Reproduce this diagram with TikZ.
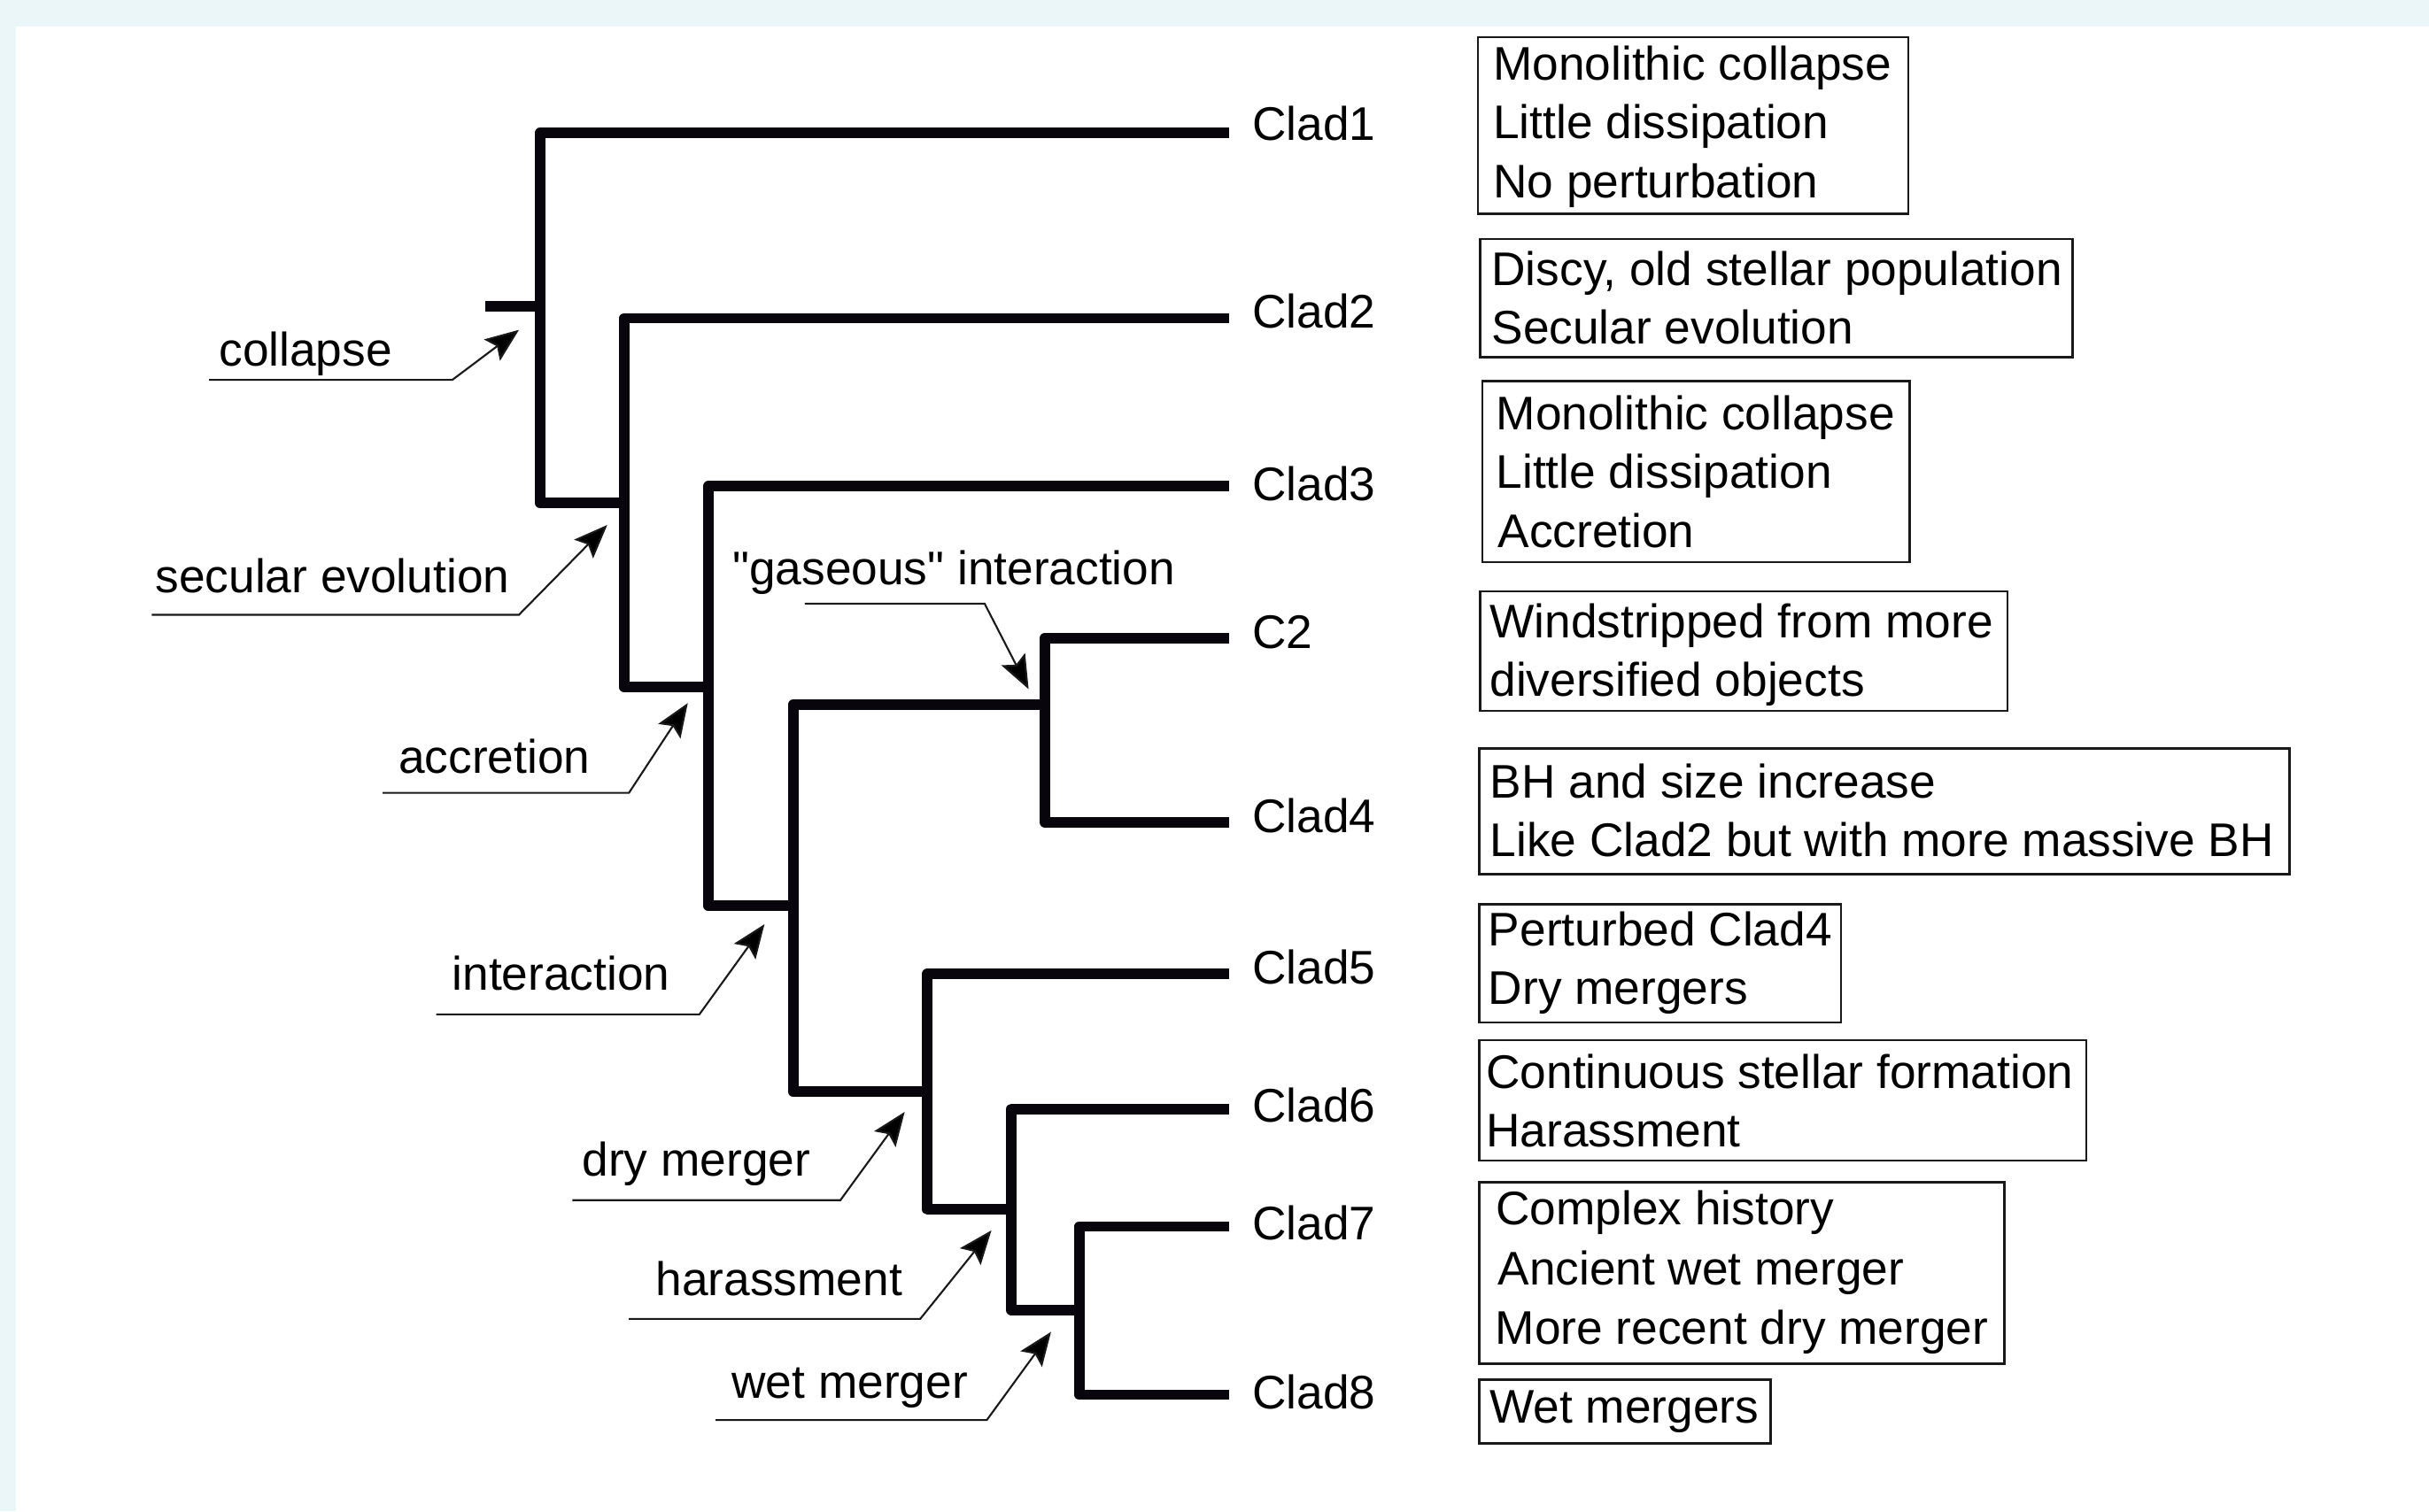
\documentclass[tikz,border=0pt]{standalone}
\usepackage{fontspec}
\newfontfamily\labfont{Liberation Sans}
\usetikzlibrary{arrows.meta,fit}
\definecolor{bgstrip}{RGB}{234,246,248}
\definecolor{inkline}{RGB}{8,6,12}
\begin{document}
\begin{tikzpicture}[x=0.017494cm,y=-0.017494cm,
  tree/.style={line width=3.4pt, line join=round, line cap=butt, draw=inkline},
  lead/.style={line width=0.6pt, draw=black!90, -{Stealth[length=0.38cm,width=0.3cm,inset=0.07cm,fill=black]}},
  boxst/.style={draw=black!90, line width=0.7pt, inner sep=0pt},
  txt/.style={inner sep=0pt, anchor=base west, font=\labfont\fontsize{15.15}{18}\selectfont}]
\useasboundingbox (0,0) rectangle (1568,976);
\fill[white] (0,0) rectangle (1568,976);
\fill[bgstrip] (0,0) rectangle (1568,17.1);
\fill[bgstrip] (0,0) rectangle (10.2,976);

% tree coordinates
\coordinate (stub) at (313,198);
\coordinate (root) at (348.5,198);
\coordinate (aBot) at (348.5,324.6);
\coordinate (bMid) at (403,324.6);
\coordinate (bBot) at (403,443.8);
\coordinate (cMid) at (457.3,443.8);
\coordinate (cBot) at (457.3,585);
\coordinate (dMid) at (512,585);
\coordinate (eMid) at (674.5,455);
\coordinate (eBot) at (674.5,531);
\coordinate (dBot) at (512,705);
\coordinate (fMid) at (598.6,705);
\coordinate (fBot) at (598.6,781);
\coordinate (gMid) at (653,781);
\coordinate (gBot) at (653,846);
\coordinate (hMid) at (696.6,846);
\coordinate (hBot) at (696.6,900.6);
\coordinate (L1) at (793.3,86);
\coordinate (L2) at (793.3,205.5);
\coordinate (L3) at (793.3,314);
\coordinate (LC2) at (793.3,412);
\coordinate (L4) at (793.3,531);
\coordinate (L5) at (793.3,629);
\coordinate (L6) at (793.3,716);
\coordinate (L7) at (793.3,792);
\coordinate (L8) at (793.3,900.6);

\draw[tree] (stub) -- (root);
\draw[tree] (L1) -| (aBot) -- (bMid);
\draw[tree] (L2) -| (bBot) -- (cMid);
\draw[tree] (L3) -| (cBot) -- (dMid);
\draw[tree] (eMid) -| (dBot) -- (fMid);
\draw[tree] (LC2) -| (eBot) -- (L4);
\draw[tree] (L5) -| (fBot) -- (gMid);
\draw[tree] (L6) -| (gBot) -- (hMid);
\draw[tree] (L7) -| (hBot) -- (L8);

% leaf labels
\node[txt] (tC1) at (808,90.5) {Clad1};
\node[txt] (tC2) at (808,211.6) {Clad2};
\node[txt] (tC3) at (808,323.5) {Clad3};
\node[txt] (tCC2) at (808,419) {C2};
\node[txt] (tC4) at (808,537.8) {Clad4};
\node[txt] (tC5) at (808,635.5) {Clad5};
\node[txt] (tC6) at (808,724.8) {Clad6};
\node[txt] (tC7) at (808,800.8) {Clad7};
\node[txt] (tC8) at (808,909.5) {Clad8};

% event labels
\node[txt] (lcol) at (141,236.3) {collapse};
\node[txt] (lsec) at (100,382.6) {secular evolution};
\node[txt] (lacc) at (257,499.2) {accretion};
\node[txt] (lint) at (291.5,639.3) {interaction};
\node[txt] (ldry) at (375.5,759.5) {dry merger};
\node[txt] (lhar) at (423,836.5) {harassment};
\node[txt] (lwet) at (472,902.9) {wet merger};
\node[txt] (lgas) at (472.5,377.7) {"gaseous" interaction};

% leader coordinates
\coordinate (colS) at (135,245.3); \coordinate (colK) at (292,245.3); \coordinate (colT) at (335,213);
\coordinate (secS) at (98,397); \coordinate (secK) at (335,397); \coordinate (secT) at (392,339);
\coordinate (accS) at (247,512); \coordinate (accK) at (406,512); \coordinate (accT) at (444,454);
\coordinate (intS) at (281.6,655); \coordinate (intK) at (451.5,655); \coordinate (intT) at (493.5,596.8);
\coordinate (dryS) at (369.5,775); \coordinate (dryK) at (542.5,775); \coordinate (dryT) at (584,718);
\coordinate (harS) at (406,851.7); \coordinate (harK) at (594,851.7); \coordinate (harT) at (640,794.5);
\coordinate (wetS) at (462,917); \coordinate (wetK) at (637,917); \coordinate (wetT) at (678.5,860);
\coordinate (gasS) at (519.5,389.8); \coordinate (gasK) at (635.6,389.8); \coordinate (gasT) at (664,445);

\draw[lead] (colS) -- (colK) -- (colT);
\draw[lead] (secS) -- (secK) -- (secT);
\draw[lead] (accS) -- (accK) -- (accT);
\draw[lead] (intS) -- (intK) -- (intT);
\draw[lead] (dryS) -- (dryK) -- (dryT);
\draw[lead] (harS) -- (harK) -- (harT);
\draw[lead] (wetS) -- (wetK) -- (wetT);
\draw[lead] (gasS) -- (gasK) -- (gasT);

% description boxes
\node[boxst, fit={(954,24) (1232,138)}] (b1) {};
\node[boxst, fit={(955.4,154.4) (1337.8,230.6)}] (b2) {};
\node[boxst, fit={(957,246.2) (1232.6,363)}] (b3) {};
\node[boxst, fit={(955.5,381.8) (1296,459)}] (b4) {};
\node[boxst, fit={(955,483.4) (1478,564.6)}] (b5) {};
\node[boxst, fit={(955,584) (1188.4,660.3)}] (b6) {};
\node[boxst, fit={(955,671.7) (1346.8,749.5)}] (b7) {};
\node[boxst, line width=0.9pt, fit={(955,763.5) (1294,880.5)}] (b8) {};
\node[boxst, fit={(955,890.8) (1143,932)}] (b9) {};

\node[txt] (b1a) at (963.5,51.8) {Monolithic collapse};
\node[txt] (b1b) at (963.5,89.6) {Little dissipation};
\node[txt] (b1c) at (963.5,127.7) {No perturbation};
\node[txt] (b2a) at (962.5,184.5) {Discy, old stellar population};
\node[txt] (b2b) at (962.5,222) {Secular evolution};
\node[txt] (b3a) at (965.5,277.4) {Monolithic collapse};
\node[txt] (b3b) at (965.5,315.5) {Little dissipation};
\node[txt] (b3c) at (966.5,353.6) {Accretion};
\node[txt] (b4a) at (961.3,411.6) {Windstripped from more};
\node[txt] (b4b) at (961.3,449.8) {diversified objects};
\node[txt] (b5a) at (961.5,515.3) {BH and size increase};
\node[txt] (b5b) at (961.5,552.8) {Like Clad2 but with more massive BH};
\node[txt] (b6a) at (960.5,610.8) {Perturbed Clad4};
\node[txt] (b6b) at (960.5,648.7) {Dry mergers};
\node[txt] (b7a) at (959,702.8) {Continuous stellar formation};
\node[txt] (b7b) at (959,740.8) {Harassment};
\node[txt] (b8a) at (965.3,791) {Complex history};
\node[txt] (b8b) at (966.5,829.7) {Ancient wet merger};
\node[txt] (b8c) at (965,868) {More recent dry merger};
\node[txt] (b9a) at (961.3,919) {Wet mergers};
\end{tikzpicture}
\end{document}
